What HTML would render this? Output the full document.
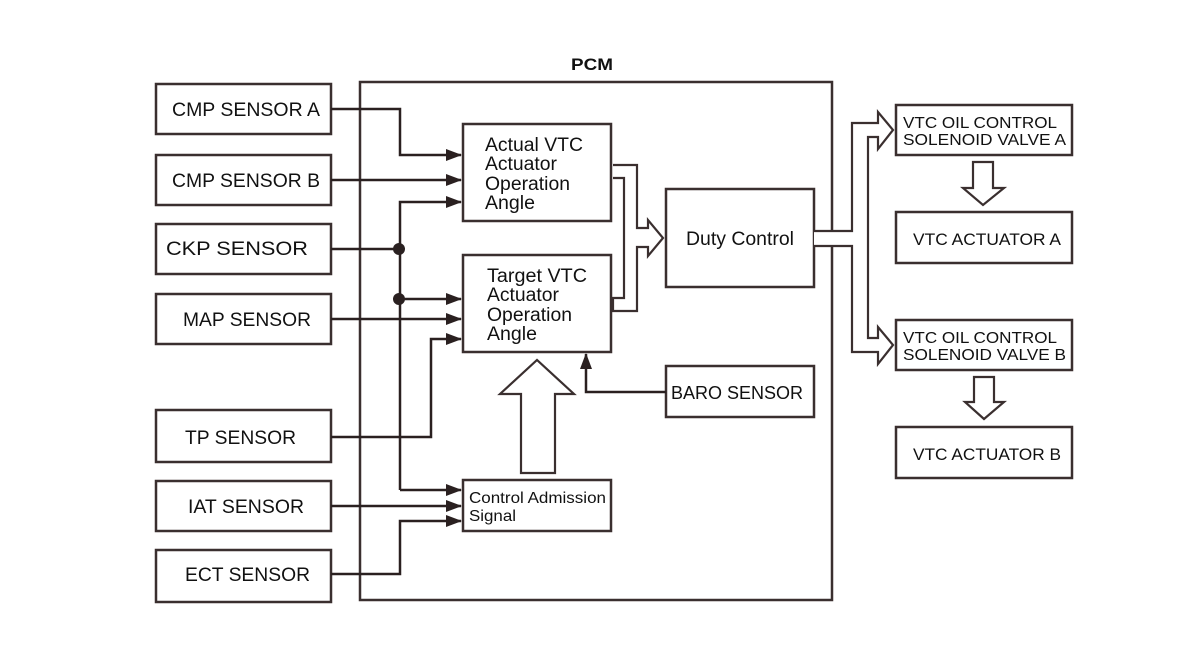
<!DOCTYPE html>
<html><head><meta charset="utf-8"><style>
html,body{margin:0;padding:0;background:#fff;}
svg{display:block;}
text{font-family:"Liberation Sans",sans-serif;fill:#111;}
</style></head><body>
<svg width="1199" height="656" viewBox="0 0 1199 656" xmlns="http://www.w3.org/2000/svg">
<defs>
<marker id="ah" markerWidth="16" markerHeight="12" refX="15" refY="6" orient="auto" markerUnits="userSpaceOnUse">
<path d="M0,0 L16,6 L0,12 Z" fill="#2a2020"/>
</marker>
</defs>
<g fill="none" stroke="#3a2f2f" stroke-width="2.5">
<rect x="360" y="82" width="472" height="518"/>
<rect x="156" y="84" width="175" height="50"/>
<rect x="156" y="155" width="175" height="50"/>
<rect x="156" y="224" width="175" height="50"/>
<rect x="156" y="294" width="175" height="50"/>
<rect x="156" y="410" width="175" height="52"/>
<rect x="156" y="481" width="175" height="50"/>
<rect x="156" y="550" width="175" height="52"/>
<rect x="463" y="124" width="148" height="97"/>
<rect x="463" y="255" width="148" height="97"/>
<rect x="463" y="480" width="148" height="51"/>
<rect x="666" y="189" width="148" height="98"/>
<rect x="666" y="366" width="148" height="51"/>
<rect x="896" y="105" width="176" height="50"/>
<rect x="896" y="212" width="176" height="51"/>
<rect x="896" y="320" width="176" height="50"/>
<rect x="896" y="427" width="176" height="51"/>
</g>
<g fill="none" stroke="#2a2020" stroke-width="2.5">
<path d="M331,109 H400 V155 H461" marker-end="url(#ah)"/>
<path d="M331,180 H461" marker-end="url(#ah)"/>
<path d="M400,490 V202 H461" marker-end="url(#ah)"/>
<path d="M400,490 H461" marker-end="url(#ah)"/>
<path d="M331,249 H398"/>
<path d="M398,299 H461" marker-end="url(#ah)"/>
<path d="M331,319 H461" marker-end="url(#ah)"/>
<path d="M331,437 H431 V339 H461" marker-end="url(#ah)"/>
<path d="M331,506 H461" marker-end="url(#ah)"/>
<path d="M331,574 H400 V521 H461" marker-end="url(#ah)"/>
<path d="M666,392 H586 V354" marker-end="url(#ah)"/>
</g>
<circle cx="399" cy="249" r="6" fill="#2a2020"/>
<circle cx="399" cy="299" r="6" fill="#2a2020"/>
<g fill="#fff" stroke="#3a2f2f" stroke-width="2.2" stroke-linejoin="miter">
<path d="M521,473 V394 H500 L537,360 L574,394 H555 V473 Z"/>
<path d="M613,165 H637 V228 H648 V220 L663,238 L648,256 V247 H637 V311 H613 V298 H624 V178 H613"/>
<path d="M814,231 H852 V123 H878 V112 L893,130 L878,149 V137 H868 V338 H878 V327 L893,345 L878,364 V352 H852 V246 H814"/>
<path d="M973,162 V188 H963 L983,205 L1004,188 H993 V162 Z"/>
<path d="M974,377 V402 H965 L984,419 L1004,402 H994 V377 Z"/>
</g>
<g font-size="19" lengthAdjust="spacingAndGlyphs">
<text x="571" y="70" font-weight="bold" font-size="17" textLength="42" lengthAdjust="spacingAndGlyphs">PCM</text>
<text x="172" y="116" textLength="148" lengthAdjust="spacingAndGlyphs">CMP SENSOR A</text>
<text x="172" y="187" textLength="148" lengthAdjust="spacingAndGlyphs">CMP SENSOR B</text>
<text x="166" y="255" textLength="142" lengthAdjust="spacingAndGlyphs">CKP SENSOR</text>
<text x="183" y="326" textLength="128" lengthAdjust="spacingAndGlyphs">MAP SENSOR</text>
<text x="185" y="444" textLength="111" lengthAdjust="spacingAndGlyphs">TP SENSOR</text>
<text x="188" y="513" textLength="116" lengthAdjust="spacingAndGlyphs">IAT SENSOR</text>
<text x="185" y="581" textLength="125" lengthAdjust="spacingAndGlyphs">ECT SENSOR</text>
<text x="485" y="151" textLength="98" lengthAdjust="spacingAndGlyphs">Actual VTC</text>
<text x="485" y="170" textLength="72" lengthAdjust="spacingAndGlyphs">Actuator</text>
<text x="485" y="190" textLength="85" lengthAdjust="spacingAndGlyphs">Operation</text>
<text x="485" y="209" textLength="50" lengthAdjust="spacingAndGlyphs">Angle</text>
<text x="487" y="282" textLength="100" lengthAdjust="spacingAndGlyphs">Target VTC</text>
<text x="487" y="301" textLength="72" lengthAdjust="spacingAndGlyphs">Actuator</text>
<text x="487" y="321" textLength="85" lengthAdjust="spacingAndGlyphs">Operation</text>
<text x="487" y="340" textLength="50" lengthAdjust="spacingAndGlyphs">Angle</text>
<text x="469" y="503" font-size="16" textLength="137" lengthAdjust="spacingAndGlyphs">Control Admission</text>
<text x="469" y="521" font-size="16" textLength="47" lengthAdjust="spacingAndGlyphs">Signal</text>
<text x="686" y="245" textLength="108" lengthAdjust="spacingAndGlyphs">Duty Control</text>
<text x="671" y="399" font-size="18" textLength="132" lengthAdjust="spacingAndGlyphs">BARO SENSOR</text>
<text x="903" y="128" font-size="16" textLength="154" lengthAdjust="spacingAndGlyphs">VTC OIL CONTROL</text>
<text x="903" y="145" font-size="16" textLength="163" lengthAdjust="spacingAndGlyphs">SOLENOID VALVE A</text>
<text x="913" y="245" font-size="17" textLength="148" lengthAdjust="spacingAndGlyphs">VTC ACTUATOR A</text>
<text x="903" y="343" font-size="16" textLength="154" lengthAdjust="spacingAndGlyphs">VTC OIL CONTROL</text>
<text x="903" y="360" font-size="16" textLength="163" lengthAdjust="spacingAndGlyphs">SOLENOID VALVE B</text>
<text x="913" y="460" font-size="17" textLength="148" lengthAdjust="spacingAndGlyphs">VTC ACTUATOR B</text>
</g>
</svg>
</body></html>
